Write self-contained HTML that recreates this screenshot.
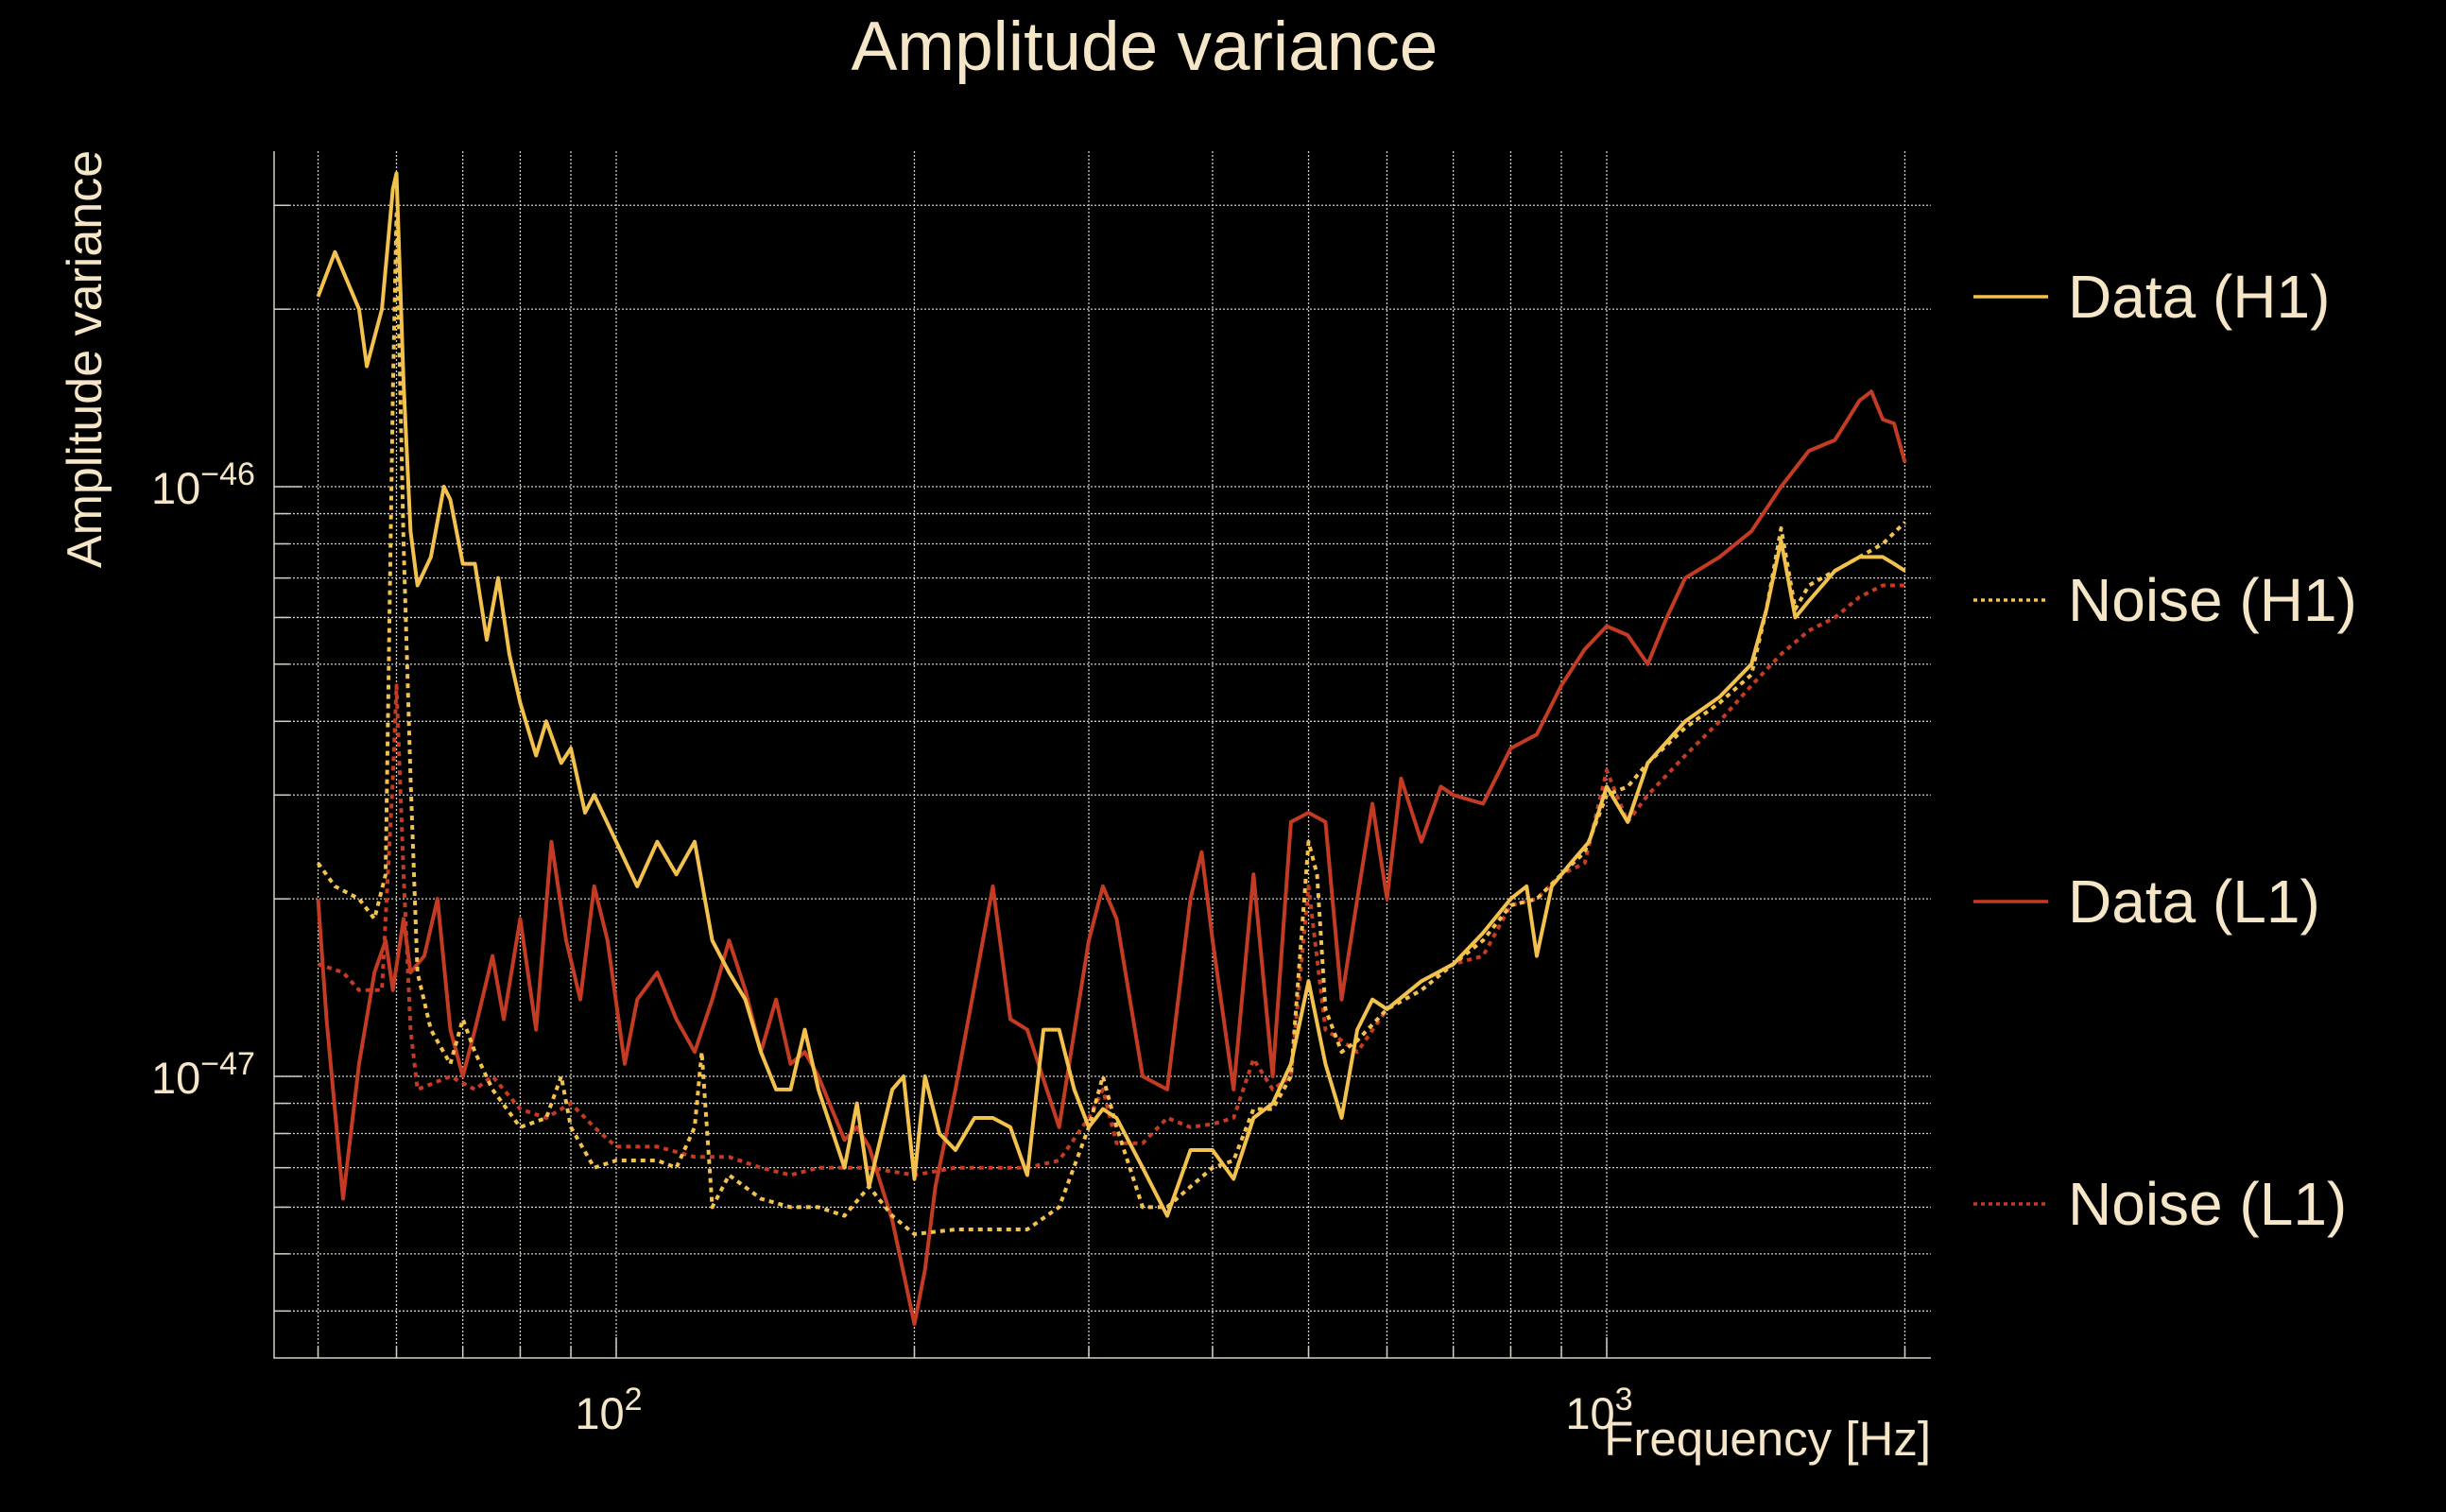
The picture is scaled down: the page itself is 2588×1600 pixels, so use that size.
<!DOCTYPE html>
<html><head><meta charset="utf-8"><style>
html,body{margin:0;padding:0;background:#000;}
svg{display:block;font-family:"Liberation Sans",sans-serif;}
</style></head><body>
<svg id="chart" width="2588" height="1600" viewBox="0 0 2588 1600" xmlns="http://www.w3.org/2000/svg">
<rect width="2588" height="1600" fill="#000"/>
<text x="1211" y="74" font-size="73" fill="#f5e6c8" text-anchor="middle">Amplitude variance</text>
<text transform="translate(107,380) rotate(-90)" font-size="52" fill="#f5e6c8" text-anchor="middle">Amplitude variance</text>
<text x="2043" y="1540" font-size="51" fill="#f5e6c8" text-anchor="end">Frequency [Hz]</text>
<g id="grid"></g>
<g id="ticks"></g>
<g id="series"></g>
<g id="legend"></g>
</svg>
<script>
// Data (values in units of 1e-47)
const dataH1F=[50,52,55,56,58,59.5,60,61,62,63,65,67,68,70,72,74,76,78,80,83,85,88,90,93,95,100,105,110,115,120,125,130,135,140,145,150,155,160,170,175,180,190,195,200,205,212,220,230,240,250,260,270,280,290,300,310,320,340,360,380,400,420,440,460,480,500,520,540,560,580,600,650,700,750,800,830,850,880,920,960,1000,1050,1100,1200,1300,1400,1450,1500,1550,1600,1700,1800,1900,1950,2000];
const dataH1V=[21,25,20,16,20,32,34,15,8.4,6.8,7.6,10,9.5,7.4,7.4,5.5,7,5.2,4.3,3.5,4,3.4,3.6,2.8,3,2.5,2.1,2.5,2.2,2.5,1.7,1.5,1.35,1.1,0.95,0.95,1.2,0.95,0.7,0.9,0.65,0.95,1,0.67,1,0.8,0.75,0.85,0.85,0.82,0.68,1.2,1.2,0.95,0.82,0.88,0.85,0.7,0.58,0.75,0.75,0.67,0.85,0.9,1.05,1.45,1.05,0.85,1.2,1.35,1.3,1.45,1.55,1.75,2,2.1,1.6,2.1,2.3,2.5,3.1,2.7,3.4,4,4.4,5,6.2,8.1,6,6.4,7.2,7.6,7.6,7.4,7.2];
const dataL1F=[50,51,53,55,57,58.5,59.5,61,62,64,66,68,70,72,75,77,80,83,86,89,92,95,98,102,105,110,115,120,125,130,135,140,145,150,155,160,170,175,180,190,200,205,210,220,240,250,260,280,300,310,320,340,360,380,390,400,420,440,460,480,500,520,540,560,580,600,620,650,680,700,750,800,850,900,950,1000,1050,1100,1150,1200,1300,1400,1500,1600,1700,1800,1850,1900,1950,2000];
const dataL1V=[2,1.25,0.62,1.05,1.5,1.7,1.4,1.85,1.5,1.6,2,1.2,1,1.2,1.6,1.25,1.85,1.2,2.5,1.7,1.35,2.1,1.7,1.05,1.35,1.5,1.25,1.1,1.35,1.7,1.4,1.1,1.35,1.05,1.1,1,0.78,0.82,0.76,0.57,0.38,0.47,0.65,0.95,2.1,1.25,1.2,0.82,1.7,2.1,1.85,1,0.95,2,2.4,1.7,0.95,2.2,1,2.7,2.8,2.7,1.35,2,2.9,2,3.2,2.5,3.1,3,2.9,3.6,3.8,4.6,5.3,5.8,5.6,5,6,7,7.6,8.4,10,11.5,12,14,14.5,13,12.8,11];
const noiseH1F=[50,52,55,57,58.5,59.5,60,61,62,63,65,68,70,72,75,80,85,88,90,95,100,110,115,120,122,125,130,140,150,160,170,180,190,200,220,240,260,280,300,310,320,340,360,380,400,420,440,460,480,500,510,520,540,560,600,650,700,750,800,850,900,950,1000,1050,1100,1200,1300,1400,1450,1500,1550,1600,1700,1800,1900,2000];
const noiseH1V=[2.3,2.1,2,1.85,2.2,14.5,29,8,3.2,1.5,1.2,1.05,1.25,1.1,0.95,0.82,0.85,1,0.82,0.7,0.72,0.72,0.7,0.82,1.1,0.6,0.68,0.62,0.6,0.6,0.58,0.65,0.58,0.54,0.55,0.55,0.55,0.6,0.82,1,0.82,0.6,0.6,0.65,0.7,0.72,0.88,0.88,1,2.5,2.2,1.3,1.1,1.15,1.3,1.4,1.55,1.7,1.95,2,2.2,2.4,3,3.1,3.4,3.9,4.3,4.8,6.2,8.5,6.2,6.8,7.2,7.6,8,8.7];
const noiseL1F=[50,53,55,58,59.5,60,61,62,63,65,68,72,75,80,85,90,95,100,110,120,130,140,150,160,170,180,200,220,240,260,280,300,310,320,340,360,380,400,420,440,460,480,500,520,540,560,600,650,700,750,800,850,900,950,1000,1050,1100,1200,1300,1400,1500,1600,1700,1800,1900,2000];
const noiseL1V=[1.55,1.5,1.4,1.4,3.2,4.6,2.2,1.2,0.95,0.97,1,0.95,1,0.88,0.85,0.9,0.82,0.76,0.76,0.73,0.73,0.7,0.68,0.7,0.7,0.7,0.68,0.7,0.7,0.7,0.72,0.85,0.95,0.77,0.77,0.85,0.82,0.83,0.85,1.07,0.95,1,2.1,1.2,1.15,1.1,1.3,1.45,1.55,1.6,1.95,2,2.2,2.3,3.3,2.7,3,3.5,4,4.6,5.2,5.7,6,6.5,6.8,6.8];
const unit=1e-47;
const yGridVals=[4e-48,5e-48,6e-48,7e-48,8e-48,9e-48,1e-47,2e-47,3e-47,4e-47,5e-47,6e-47,7e-47,8e-47,9e-47,1e-46,2e-46,3e-46];
const xGridVals=[50,60,70,80,90,100,200,300,400,500,600,700,800,900,1000,2000];
const xTickLabels=[[100,"2"],[1000,"3"]];
const yTickLabels=[[1e-46,"−46"],[1e-47,"−47"]];

const L=290,R=2043,T=160,B=1437;
const X0=652,XDEC=1048;
const Y0=1139,YDEC=624;
function xs(f){return X0+Math.log10(f/100)*XDEC;}
function ys(v){return Y0-Math.log10(v/1e-47)*YDEC;}
const NS="http://www.w3.org/2000/svg";
function mk(tag,attrs,parent){const e=document.createElementNS(NS,tag);for(const k in attrs)e.setAttribute(k,attrs[k]);parent.appendChild(e);return e;}
const grid=document.getElementById('grid'),ticks=document.getElementById('ticks'),series=document.getElementById('series'),legend=document.getElementById('legend');
xGridVals.forEach(f=>{const x=xs(f);
 const l=mk('line',{x1:x,x2:x,y1:T,y2:B,stroke:'#cfcfc4','stroke-width':1.3,'stroke-dasharray':'2,2'},grid);
 
 
 const t=mk('line',{x1:x,x2:x,y1:B,y2:B-(Math.log10(f)%1===0?22:12),stroke:'#cfcfc4','stroke-width':1.5},ticks);
 
 
});
yGridVals.forEach(v=>{const y=ys(v);
 const l=mk('line',{x1:L,x2:R,y1:y,y2:y,stroke:'#cfcfc4','stroke-width':1.3,'stroke-dasharray':'2,2'},grid);
 
 
 const major=Math.abs(Math.log10(v)-Math.round(Math.log10(v)))<1e-6;
 const t=mk('line',{x1:L,x2:L+(major?30:16),y1:y,y2:y,stroke:'#cfcfc4','stroke-width':1.5},ticks);
 
 
});
const ax=mk('path',{d:`M${L},${T} L${L},${B} L${R},${B}`,fill:'none',stroke:'#cfcfc4','stroke-width':1.5},ticks);


xTickLabels.forEach(([f,e])=>{const tx=mk('text',{x:xs(f)-8,y:1512,'font-size':47,fill:'#f5e6c8','text-anchor':'middle'},ticks);
 
 
 tx.innerHTML='10<tspan dy="-20" font-size="34">'+e+'</tspan>';});
yTickLabels.forEach(([v,e])=>{const tx=mk('text',{x:160,y:ys(v)+18,'font-size':47,fill:'#f5e6c8'},ticks);
 
 
 tx.innerHTML='10<tspan dy="-20" font-size="34">'+e+'</tspan>';});
const Y='#f2c14e',RD='#c23b22';
const defs=[
 [dataL1F,dataL1V,RD,null,'data-l1-line'],
 [noiseL1F,noiseL1V,RD,'5,5','noise-l1-line'],
 [noiseH1F,noiseH1V,Y,'5,5','noise-h1-line'],
 [dataH1F,dataH1V,Y,null,'data-h1-line']];
defs.forEach(([F,V,c,d,name])=>{
 const pts=F.map((f,i)=>xs(f).toFixed(1)+','+ys(V[i]*unit).toFixed(1)).join(' ');
 const a={points:pts,fill:'none',stroke:c,'stroke-width':4,'stroke-linejoin':'round'};
 if(d)a['stroke-dasharray']=d;
 const p=mk('polyline',a,series);
 
 
});
const leg=[['Data (H1)',Y,null,314],['Noise (H1)',Y,'4,4',635],['Data (L1)',RD,null,954],['Noise (L1)',RD,'4,4',1274]];
leg.forEach(([t,c,d,y])=>{
 const g=mk('g',{},legend);
 
 
 const a={x1:2088,x2:2167,y1:y,y2:y,stroke:c,'stroke-width':3.6};
 if(d)a['stroke-dasharray']=d;
 const l=mk('line',a,g);
 
 
 const tx=mk('text',{x:2188,y:y+22,'font-size':64,fill:'#f5e6c8'},g);
 
 
 tx.textContent=t;
});
</script>
</body></html>
